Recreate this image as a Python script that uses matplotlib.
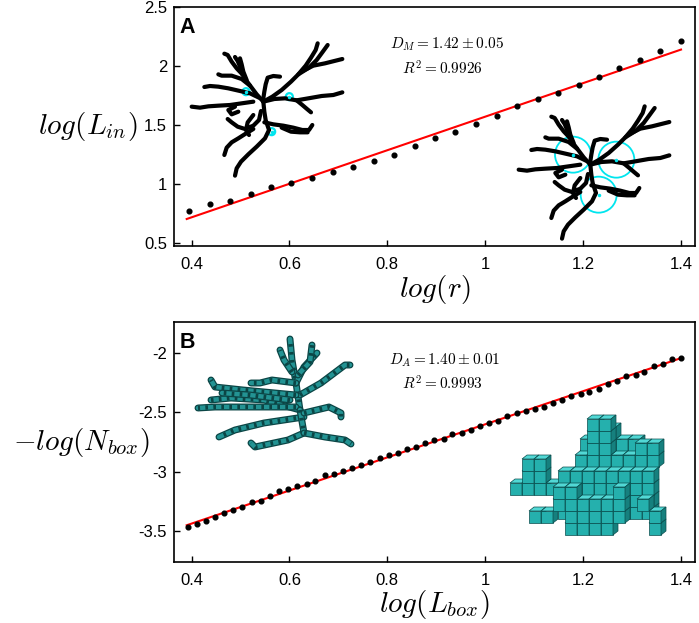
import numpy as np
import matplotlib.pyplot as plt
from matplotlib.patches import Polygon, Ellipse

plt.rcParams['font.family'] = ['Liberation Sans', 'DejaVu Sans']
plt.rcParams['mathtext.fontset'] = 'cm'
plt.rcParams['axes.unicode_minus'] = False

# panel A : mass-radius
log_r = [0.395, 0.437, 0.479, 0.521, 0.563, 0.604, 0.646, 0.688, 0.730, 0.772,
         0.814, 0.856, 0.898, 0.939, 0.981, 1.023, 1.065, 1.107, 1.149, 1.191,
         1.233, 1.274, 1.316, 1.358, 1.400]
log_lin = [0.77, 0.83, 0.86, 0.92, 0.98, 1.01, 1.05, 1.10, 1.15, 1.20,
           1.25, 1.32, 1.39, 1.44, 1.51, 1.58, 1.66, 1.72, 1.77, 1.84,
           1.91, 1.98, 2.05, 2.13, 2.21]
fit_a = (1.42, 0.152)

# panel B : box counting
log_lbox = [0.392, 0.411, 0.429, 0.448, 0.467, 0.485, 0.504, 0.523, 0.541, 0.560,
            0.579, 0.597, 0.616, 0.635, 0.653, 0.672, 0.691, 0.709, 0.728, 0.747,
            0.765, 0.784, 0.803, 0.821, 0.840, 0.859, 0.877, 0.896, 0.915, 0.933,
            0.952, 0.971, 0.989, 1.008, 1.027, 1.045, 1.064, 1.083, 1.101, 1.120,
            1.139, 1.157, 1.176, 1.195, 1.213, 1.232, 1.251, 1.269, 1.288, 1.307,
            1.325, 1.344, 1.363, 1.381, 1.400]
neg_log_nbox = [-3.466, -3.446, -3.415, -3.384, -3.350, -3.327, -3.299, -3.260, -3.246, -3.204,
                -3.167, -3.147, -3.124, -3.102, -3.079, -3.031, -3.023, -2.992, -2.970, -2.944,
                -2.916, -2.882, -2.860, -2.845, -2.812, -2.795, -2.758, -2.733, -2.722, -2.685,
                -2.676, -2.648, -2.612, -2.592, -2.570, -2.533, -2.507, -2.485, -2.473, -2.451,
                -2.423, -2.395, -2.361, -2.344, -2.325, -2.302, -2.257, -2.232, -2.192, -2.181,
                -2.161, -2.110, -2.088, -2.048, -2.037]
fit_b = (1.40, -4.0)
fit_x = [0.39, 1.40]

xticks = [0.4, 0.6, 0.8, 1.0, 1.2, 1.4]
xticklabels = ['0.4', '0.6', '0.8', '1', '1.2', '1.4']
yticks_a = [0.5, 1.0, 1.5, 2.0, 2.5]
yticklabels_a = ['0.5', '1', '1.5', '2', '2.5']
yticks_b = [-3.5, -3.0, -2.5, -2.0]
yticklabels_b = ['-3.5', '-3', '-2.5', '-2']

# neuron skeleton sketch (units of 1/3 px)
neuron_a = [
    [(235, 200), (238, 230), (242, 255), (252, 285), (240, 310), (215, 335), (190, 358),
     (168, 380), (155, 400), (150, 422)],
    [(235, 200), (262, 185), (290, 165), (318, 140), (340, 118), (362, 92), (378, 68),
     (392, 45), (398, 25)],
    [(340, 118), (372, 98), (395, 75), (412, 52), (428, 30)],
    [(352, 108), (385, 92), (420, 85), (448, 78), (472, 72)],
    [(235, 200), (268, 192), (300, 190), (335, 196), (370, 190), (410, 183), (445, 180), (472, 172)],
    [(335, 196), (352, 210), (366, 222), (378, 232)],
    [(235, 200), (215, 178), (200, 158), (185, 138), (172, 118), (155, 100), (140, 80),
     (128, 60), (118, 56)],
    [(172, 118), (165, 95), (158, 78), (150, 66)],
    [(185, 135), (175, 110), (170, 88), (165, 70)],
    [(195, 152), (170, 132), (140, 122), (110, 122), (100, 118)],
    [(222, 188), (195, 175), (165, 168), (130, 160), (100, 155), (75, 153), (58, 156)],
    [(205, 200), (170, 205), (135, 210), (100, 212), (70, 214), (45, 218), (20, 215)],
    [(228, 228), (222, 255), (205, 272), (180, 282), (158, 275), (140, 262), (128, 252)],
    [(238, 262), (265, 268), (295, 272), (325, 278), (352, 285), (372, 285), (382, 270)],
    [(290, 278), (318, 290), (345, 292), (368, 292)],
    [(205, 282), (182, 296), (160, 310), (140, 322), (125, 338), (118, 360)],
    [(205, 240), (188, 262), (183, 285), (192, 300)],
    [(235, 190), (238, 170), (242, 148), (248, 128), (265, 123), (285, 125)],
    [(160, 230), (140, 238), (130, 225), (150, 215)],
]
small_marks = [(183, 170), (313, 185), (260, 290)]

neuron_b = [
    [(300, 410), (296, 383), (292, 360), (290, 339)],
    [(296, 383), (304, 367), (317, 353)],
    [(300, 395), (321, 383), (345, 365), (350, 365)],
    [(292, 372), (284, 360), (280, 350)],
    [(296, 383), (272, 380), (260, 383), (251, 383)],
    [(300, 410), (264, 400), (231, 398), (211, 400)],
    [(296, 407), (255, 407), (215, 407), (198, 408)],
    [(296, 395), (243, 390), (215, 387), (211, 380)],
    [(290, 400), (250, 395), (222, 393)],
    [(304, 417), (264, 423), (235, 430), (219, 437)],
    [(300, 410), (304, 433), (288, 440), (255, 447), (251, 443)],
    [(304, 433), (325, 437), (345, 440), (351, 444)],
    [(304, 413), (329, 407), (341, 413), (341, 417)],
    [(298, 375), (310, 362), (312, 345)],
]

# voxel blocks (x0, x1, y0, y1, z0, z1)
boxes = [
    (12, 12, 0, 1, 0, 0),
    (2, 3, 1, 1, 0, 0),
    (0, 4, 3, 3, 1, 1),
    (1, 2, 4, 5, 1, 1),
    (5, 8, 0, 2, 0, 0),
    (4, 5, 2, 3, 0, 0),
    (4, 9, 1, 4, 1, 1),
    (5, 10, 2, 5, 2, 2),
    (5, 9, 3, 6, 3, 3),
    (6, 7, 5, 8, 2, 2),
    (7, 7, 6, 7, 3, 3),
    (10, 11, 5, 6, 2, 2),
    (9, 11, 1, 4, 1, 1),
    (9, 9, 1, 3, 0, 0),
    (11, 11, 2, 2, 0, 0),
]

fig = plt.figure(figsize=(6.99, 6.23), dpi=100)
ax_a = fig.add_axes([0.2489, 0.6051, 0.7454, 0.3836])
ax_b = fig.add_axes([0.2489, 0.0979, 0.7454, 0.3852])

def style(ax, yt, ytl):
    ax.set_xlim(0.364, 1.4286)
    ax.set_xticks(xticks)
    ax.set_xticklabels(xticklabels)
    ax.set_yticks(yt)
    ax.set_yticklabels(ytl)
    ax.tick_params(direction='in', length=4.5, width=1.0, labelsize=12,
                   top=False, right=False)
    ax.tick_params(axis='x', pad=8)
    ax.tick_params(axis='y', pad=5)
    for sp in ax.spines.values():
        sp.set_linewidth(1.2)

ax_a.plot(log_r, log_lin, 'o', color='black', markersize=3.4, zorder=3)
ax_a.plot(fit_x, [fit_a[0] * v + fit_a[1] for v in fit_x], color='red', lw=1.5)
ax_a.set_ylim(0.477, 2.5)
style(ax_a, yticks_a, yticklabels_a)
ax_a.set_ylabel('$log(L_{in})$', fontsize=21, rotation=0, ha='right', va='center')
ax_a.yaxis.set_label_coords(-0.071, 0.5)
ax_a.set_xlabel('$log(r)$', fontsize=21, va='center')
ax_a.xaxis.set_label_coords(0.5, -0.184)
ax_a.text(0.011, 0.957, 'A', transform=ax_a.transAxes, fontsize=15.5,
          fontweight='bold', ha='left', va='top')
ax_a.text(0.524, 0.845, r'$D_M = 1.42 \pm 0.05$', transform=ax_a.transAxes,
          fontsize=11, ha='center', va='center')
ax_a.text(0.516, 0.741, r'$R^2 = 0.9926$', transform=ax_a.transAxes,
          fontsize=11, ha='center', va='center')

ax_b.plot(log_lbox, neg_log_nbox, 'o', color='black', markersize=3.4, zorder=3)
ax_b.plot(fit_x, [fit_b[0] * v + fit_b[1] for v in fit_x], color='red', lw=1.5)
ax_b.set_ylim(-3.765, -1.735)
style(ax_b, yticks_b, yticklabels_b)
ax_b.set_ylabel('$-log(N_{box})$', fontsize=21, rotation=0, ha='right', va='center')
ax_b.yaxis.set_label_coords(-0.046, 0.5)
ax_b.set_xlabel('$log(L_{box})$', fontsize=21, va='center')
ax_b.xaxis.set_label_coords(0.5, -0.175)
ax_b.text(0.011, 0.957, 'B', transform=ax_b.transAxes, fontsize=15.5,
          fontweight='bold', ha='left', va='top')
ax_b.text(0.520, 0.842, r'$D_A = 1.40 \pm 0.01$', transform=ax_b.transAxes,
          fontsize=11, ha='center', va='center')
ax_b.text(0.516, 0.742, r'$R^2 = 0.9993$', transform=ax_b.transAxes,
          fontsize=11, ha='center', va='center')

# overlay in pixel coordinates for the pictures
ov = fig.add_axes([0, 0, 1, 1], zorder=5)
ov.set_xlim(0, 699)
ov.set_ylim(623, 0)
ov.patch.set_alpha(0)
ov.axis('off')

def draw_neuron(ox, oy, big):
    for br in neuron_a:
        xs = [ox + p[0] / 3 for p in br]
        ys = [oy + p[1] / 3 for p in br]
        ov.plot(xs, ys, color='black', lw=3.0, solid_capstyle='round',
                solid_joinstyle='round')
    for cx, cy in small_marks:
        r = 18 if big else 3.5
        ov.add_patch(Ellipse((ox + cx / 3, oy + cy / 3), 2 * r, 2 * r,
                             fill=False, ec='#00e5ee', lw=1.3 if big else 1.6))
        ov.plot(ox + cx / 3, oy + cy / 3, 'o', color='#00e5ee', markersize=1.5)

draw_neuron(185, 35, False)
draw_neuron(512, 98, True)

for br in neuron_b:
    xs = [p[0] for p in br]
    ys = [p[1] for p in br]
    ov.plot(xs, ys, color='#0b4545', lw=5.0, solid_capstyle='round')
    ov.plot(xs, ys, color='#239393', lw=3.2, solid_capstyle='round')
    ov.plot(xs, ys, color='#0b4545', lw=3.2, linestyle=(0, (0.6, 1.2)))

# cube cluster, oblique view
s, dx, dy = 12, 5, 4
x0, y0 = 505, 535
vox = set()
for bx0, bx1, by0, by1, bz0, bz1 in boxes:
    for i in range(bx0, bx1 + 1):
        for j in range(by0, by1 + 1):
            for k in range(bz0, bz1 + 1):
                vox.add((i, j, k))
for i, j, k in sorted(vox, key=lambda v: (-v[2], v[1], v[0])):
    L = x0 + s * i + dx * k
    B = y0 - s * j - dy * k
    front = [(L, B), (L + s, B), (L + s, B - s), (L, B - s)]
    top = [(L, B - s), (L + s, B - s), (L + s + dx, B - s - dy), (L + dx, B - s - dy)]
    side = [(L + s, B), (L + s + dx, B - dy), (L + s + dx, B - s - dy), (L + s, B - s)]
    for pts, c in ((front, '#25b0ad'), (top, '#52d8d5'), (side, '#16807e')):
        ov.add_patch(Polygon(pts, closed=True, fc=c, ec='#0a4d4d', lw=0.5))

fig.savefig('out.png', dpi=100)
